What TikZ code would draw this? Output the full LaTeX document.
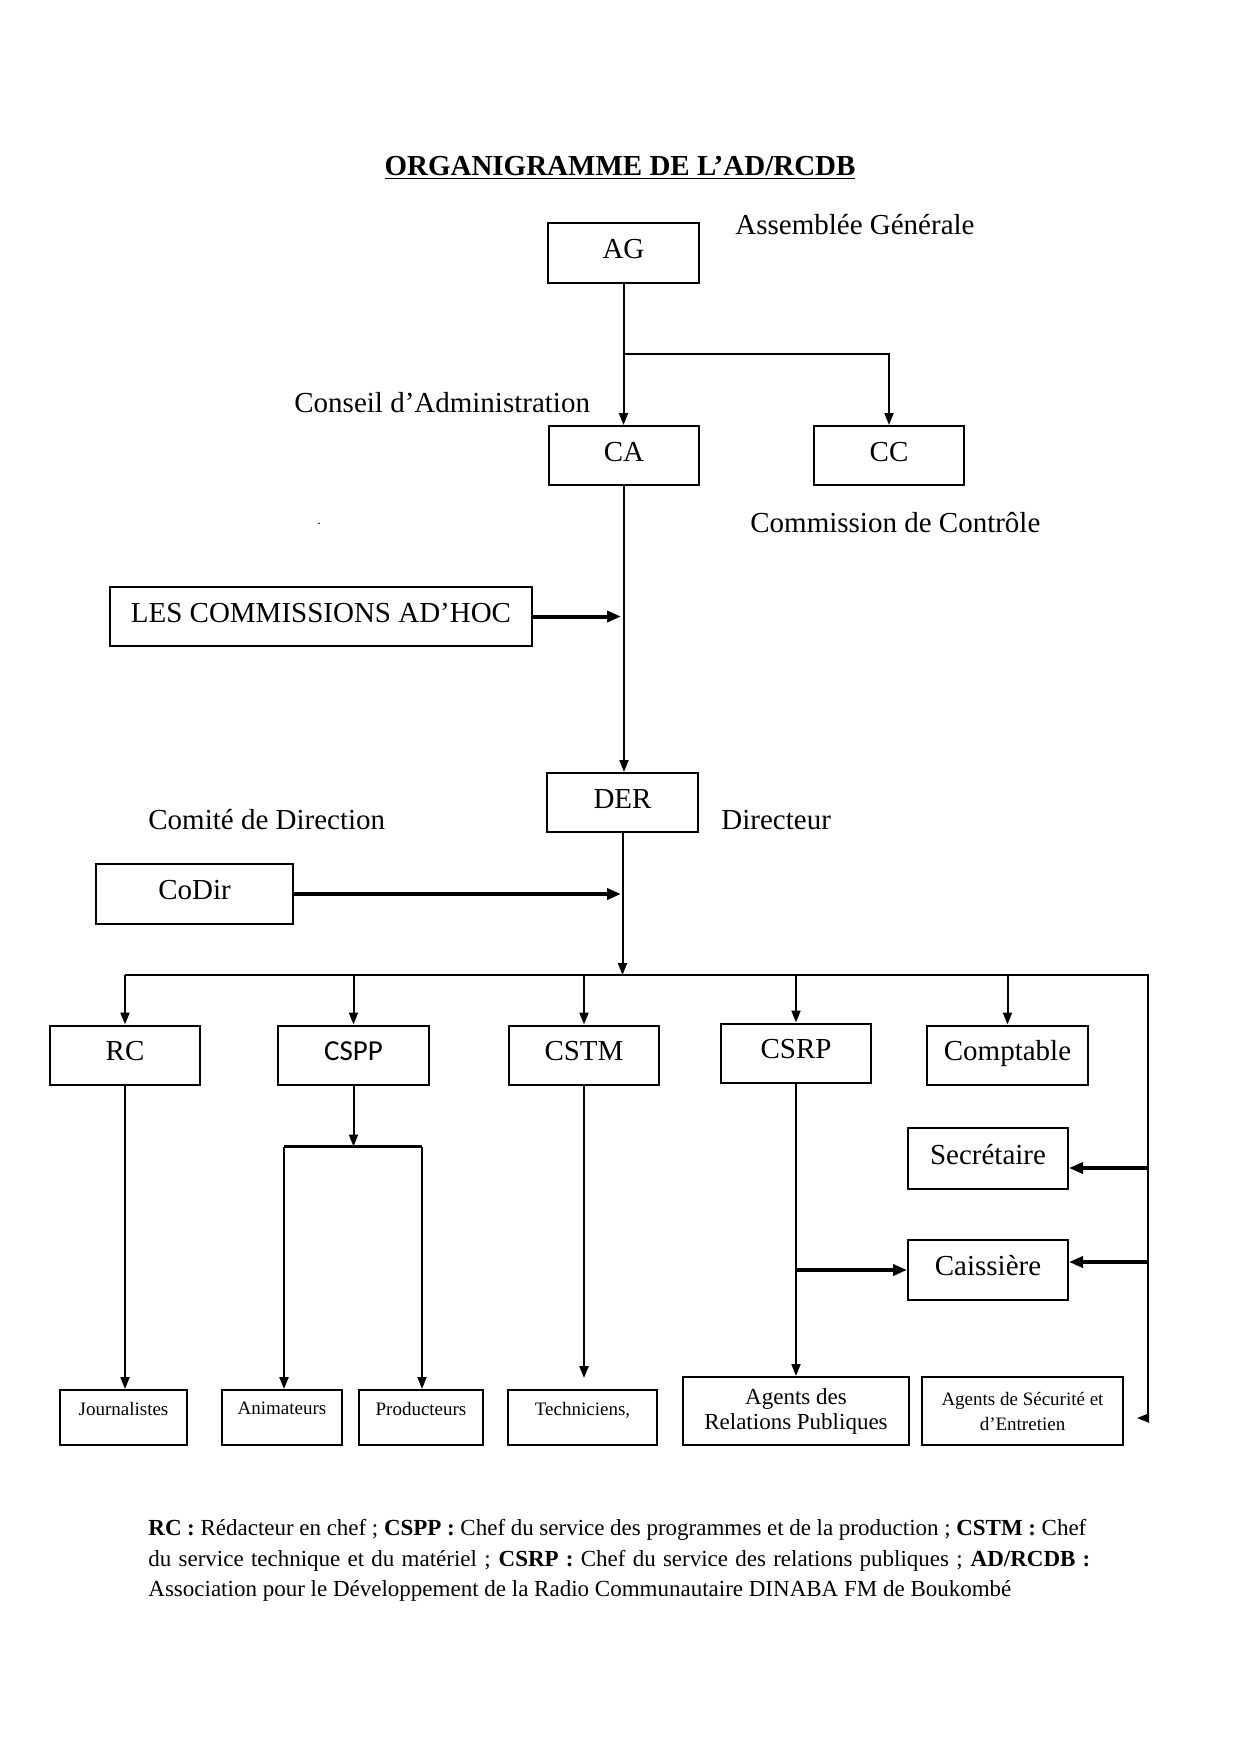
\documentclass[tikz,border=0pt]{standalone}
\usepackage{fontspec}
\setmainfont{Liberation Serif}
\newfontfamily\calfont{Carlito}
\usetikzlibrary{arrows.meta}
\begin{document}
\begin{tikzpicture}[x=0.5pt,y=-0.5pt,
  box/.style={draw, line width=1pt, inner sep=0pt, text height=9.6pt, text depth=4pt, font=\fontsize{14.5}{17}\selectfont},
  sbox/.style={draw, line width=1pt, inner sep=0pt, text depth=9pt, minimum height=27.5pt, font=\fontsize{9.5}{12.5}\selectfont},
  tbox/.style={draw, line width=1pt, inner sep=0pt, align=center, minimum height=34pt},
  lab/.style={anchor=base west, inner sep=0pt, font=\fontsize{14.5}{17}\selectfont},
  foot/.style={anchor=base west, inner sep=0pt, font=\fontsize{11.5}{14}\selectfont},
  conn/.style={line width=1pt, -{Triangle[length=6pt,width=4.5pt]}},
  tconn/.style={line width=2pt, -{Triangle[length=7pt,width=5.5pt]}},
  wire/.style={line width=1.2pt}
]
\fill[white] (0,0) rectangle (1240,1753);
\useasboundingbox (0,0) rectangle (1240,1753);

\node[anchor=base, inner sep=0pt, font=\bfseries\fontsize{14.5}{17}\selectfont] (title) at (620,175) {\underline{ORGANIGRAMME DE L’AD/RCDB}};

\node[box, minimum width=75.5pt, minimum height=30pt] (AG) at (623.5,253) {AG};
\node[lab] (agl) at (735,234) {Assemblée Générale};
\node[box, minimum width=75pt, minimum height=29.5pt] (CA) at (624,455.5) {CA};
\node[box, minimum width=75pt, minimum height=29.5pt] (CC) at (889,455.5) {CC};
\node[lab] (cal) at (294,412) {Conseil d’Administration};
\node[lab] (ccl) at (750,532) {Commission de Contrôle};
\node[lab, font=\fontsize{7}{8}\selectfont] (dot) at (317,524) {.};
\node[box, minimum width=211pt, minimum height=29.5pt] (COM) at (321,616.5) {LES COMMISSIONS AD’HOC};
\node[box, minimum width=75.5pt, minimum height=29.5pt] (DER) at (622.5,802.5) {DER};
\node[lab] (derl) at (721,829) {Directeur};
\node[lab] (codl) at (148,829) {Comité de Direction};
\node[box, minimum width=98.5pt, minimum height=30pt] (CoDir) at (194.5,894) {CoDir};

\node[box, minimum width=75pt, minimum height=29.5pt] (RC) at (125,1055) {RC};
\node[box, minimum width=75.5pt, minimum height=29.5pt] (CSPP) at (353.5,1055) {\calfont CSPP};
\node[box, minimum width=75pt, minimum height=29.5pt] (CSTM) at (584,1055) {CSTM};
\node[box, minimum width=75pt, minimum height=29.5pt] (CSRP) at (796,1053) {CSRP};
\node[box, minimum width=80.5pt, minimum height=29.5pt] (Compt) at (1007.5,1055) {Comptable};
\node[box, minimum width=80pt, minimum height=30.5pt] (Secr) at (988,1158.5) {Secrétaire};
\node[box, minimum width=80pt, minimum height=30pt] (Caiss) at (988,1270) {Caissière};

\node[sbox, minimum width=63.5pt] (Journ) at (123.5,1417.5) {Journalistes};
\node[sbox, minimum width=60pt] (Anim) at (282,1417.5) {Animateurs};
\node[sbox, minimum width=62pt] (Prod) at (421,1417.5) {Producteurs};
\node[sbox, minimum width=74.5pt] (Tech) at (582.5,1417.5) {Techniciens,};
\node[tbox, minimum width=113pt, font=\fontsize{11.5}{12.5}\selectfont] (AgRP) at (796,1411) {Agents des\\Relations Publiques};
\node[tbox, minimum width=100.5pt, font=\fontsize{9.5}{12.5}\selectfont] (AgSec) at (1022.5,1411) {Agents de Sécurité et\\d’Entretien};

\coordinate (j1) at (623.5,354);
\coordinate (m1) at (621,616.5);
\coordinate (m2) at (621,894);
\coordinate (busC) at (622.5,975);
\coordinate (busL) at (125,975);
\coordinate (busR) at (1148,975);
\coordinate (busB) at (1148,1418);
\coordinate (busT) at (1137,1418);
\coordinate (r1) at (1148,1168);
\coordinate (r2) at (1148,1262);
\coordinate (cspL) at (284,1146.5);
\coordinate (cspR) at (422,1146.5);
\coordinate (techT) at (584,1378);
\coordinate (rpj) at (796,1270);

\draw[conn] (AG.south) -- (AG.south |- CA.north);
\draw[conn] (j1) -| (CC.north);
\draw[conn] (CA.south) -- (CA.south |- DER.north);
\draw[tconn] (COM.east) -- (m1);
\draw[tconn] (CoDir.east) -- (m2);
\draw[conn] (DER.south) -- (busC);
\draw[wire] (busL) -- (busR) -- (busB);
\draw[conn] (busB) -- (busT);
\draw[conn] (RC.north |- busL) -- (RC.north);
\draw[conn] (CSPP.north |- busL) -- (CSPP.north);
\draw[conn] (CSTM.north |- busL) -- (CSTM.north);
\draw[conn] (CSRP.north |- busL) -- (CSRP.north);
\draw[conn] (Compt.north |- busL) -- (Compt.north);
\draw[tconn] (r1) -- (r1 -| Secr.east);
\draw[tconn] (r2) -- (r2 -| Caiss.east);
\draw[conn] (RC.south) -- (RC.south |- Journ.north);
\draw[conn] (CSPP.south) -- (CSPP.south |- cspL);
\draw[wire] (cspL) -- (cspR);
\draw[conn] (cspL) -- (cspL |- Anim.north);
\draw[conn] (cspR) -- (cspR |- Prod.north);
\draw[conn] (CSTM.south) -- (techT);
\draw[conn] (CSRP.south) -- (CSRP.south |- AgRP.north);
\draw[tconn] (rpj) -- (Caiss.west);

\node[foot] (f1) at (148,1535) {\makebox[469pt][s]{\textbf{RC :} Rédacteur en chef ; \textbf{CSPP :} Chef du service des programmes et de la production ; \textbf{CSTM :} Chef}};
\node[foot] (f2) at (148,1566) {\makebox[471pt][s]{du service technique et du matériel ; \textbf{CSRP :} Chef du service des relations publiques ; \textbf{AD/RCDB :}}};
\node[foot] (f3) at (148,1596) {Association pour le Développement de la Radio Communautaire DINABA FM de Boukombé};
\end{tikzpicture}
\end{document}
